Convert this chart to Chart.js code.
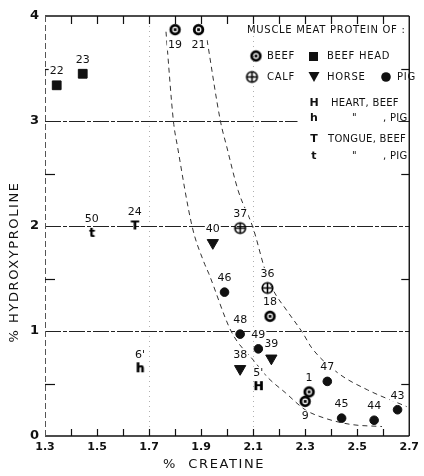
<!DOCTYPE html>
<html>
<head>
<meta charset="utf-8">
<script src="https://cdn.jsdelivr.net/npm/chart.js@4.4.1/dist/chart.umd.min.js"></script>
<style>
  html, body { margin: 0; padding: 0; background: #fff; }
</style>
</head>
<body>
<canvas id="meatChart" width="424" height="476"></canvas>
<script>
// % creatine (x) against % hydroxyproline (y), sample numbers as labels
const beefNo = ['19', '21', '18', '1', '9'];
const beefX = [1.80, 1.89, 2.165, 2.315, 2.30];
const beefY = [3.87, 3.87, 1.14, 0.42, 0.33];

const beefHeadNo = ['22', '23'];
const beefHeadX = [1.345, 1.445];
const beefHeadY = [3.34, 3.45];

const calfNo = ['37', '36'];
const calfX = [2.05, 2.155];
const calfY = [1.98, 1.41];

const horseNo = ['40', '38', '39'];
const horseX = [1.945, 2.05, 2.17];
const horseY = [1.84, 0.64, 0.74];

const pigNo = ['46', '48', '49', '47', '45', '44', '43'];
const pigX = [1.99, 2.05, 2.12, 2.385, 2.44, 2.565, 2.655];
const pigY = [1.37, 0.97, 0.83, 0.52, 0.17, 0.15, 0.25];

const heartBeefNo = ["5'"];
const heartBeefX = [2.12];
const heartBeefY = [0.47];

const heartPigNo = ["6'"];
const heartPigX = [1.665];
const heartPigY = [0.64];

const tongueBeefNo = ['24'];
const tongueBeefX = [1.645];
const tongueBeefY = [2.0];

const tonguePigNo = ['50'];
const tonguePigX = [1.48];
const tonguePigY = [1.93];

// the two dashed limit curves
const innerX = [1.765, 1.794, 1.809, 1.866, 1.91, 1.929, 2.017, 2.105, 2.155, 2.225, 2.30, 2.375, 2.476, 2.595];
const innerY = [3.85, 2.99, 2.76, 1.99, 1.66, 1.55, 0.99, 0.71, 0.56, 0.41, 0.25, 0.17, 0.11, 0.09];
const outerX = [1.923, 1.975, 1.998, 2.042, 2.10, 2.146, 2.177, 2.228, 2.291, 2.325, 2.426, 2.539, 2.69];
const outerY = [3.77, 2.99, 2.76, 2.34, 1.98, 1.58, 1.39, 1.20, 0.98, 0.84, 0.60, 0.44, 0.28];

// numbers written under the mark instead of above it
const labelBelow = ['19', '21', '9'];

const INK = '#111';
const FONT = '"DejaVu Sans", sans-serif';

function pts(xs, ys, nos) {
    return xs.map((x, i) => ({ x: x, y: ys[i], n: nos ? nos[i] : null }));
}

function makeMark(draw) {
    const c = document.createElement('canvas');
    c.width = 15; c.height = 15;
    draw(c.getContext('2d'), 7.5);
    return c;
}

const beefMark = makeMark((g, m) => {
    g.strokeStyle = '#000'; g.lineWidth = 2.8;
    g.beginPath(); g.arc(m, m, 4.3, 0, Math.PI * 2); g.stroke();
    g.fillStyle = '#000'; g.fillRect(m - 1.4, m - 1.4, 2.8, 2.8);
});

const calfMark = makeMark((g, m) => {
    g.strokeStyle = '#000'; g.lineWidth = 1.6;
    g.beginPath(); g.arc(m, m, 5.3, 0, Math.PI * 2);
    g.moveTo(m - 5.3, m); g.lineTo(m + 5.3, m);
    g.moveTo(m, m - 5.3); g.lineTo(m, m + 5.3);
    g.stroke();
});

function letterMark(ch) {
    return makeMark((g, m) => {
        g.font = 'bold 12px ' + FONT;
        g.fillStyle = '#000'; g.textAlign = 'center'; g.textBaseline = 'middle';
        g.fillText(ch, m, m + 0.5);
        g.fillText(ch, m + 0.4, m + 0.5);
    });
}

function curve(xs, ys) {
    return {
        data: pts(xs, ys), showLine: true, pointRadius: 0,
        borderColor: '#333', borderWidth: 1, borderDash: [5, 4],
        cubicInterpolationMode: 'monotone'
    };
}

function marks(xs, ys, nos, style, extra) {
    return Object.assign({
        data: pts(xs, ys, nos), numbered: true, pointStyle: style,
        backgroundColor: INK, borderColor: INK, pointBorderWidth: 1
    }, extra || {});
}

// frame, rules and inward tick marks
const frame = {
    id: 'frame',
    beforeDatasetsDraw(chart) {
        const { ctx, chartArea: a, scales: { x, y } } = chart;
        const line = (x1, y1, x2, y2) => { ctx.beginPath(); ctx.moveTo(x1, y1); ctx.lineTo(x2, y2); ctx.stroke(); };
        const px = v => Math.round(x.getPixelForValue(v)) + 0.5;
        const py = v => Math.round(y.getPixelForValue(v)) + 0.5;
        ctx.save();

        ctx.strokeStyle = '#b0b0b0'; ctx.lineWidth = 1; ctx.setLineDash([1, 4]);
        [1.7, 2.1].forEach(v => line(px(v), a.top, px(v), a.bottom));

        ctx.strokeStyle = '#222'; ctx.setLineDash([16, 2, 4, 2]);
        [1, 2].forEach(v => line(a.left, py(v), a.right, py(v)));
        line(a.left, py(3), px(2.27), py(3));
        ctx.setLineDash([]);
        line(px(2.655), py(3), a.right, py(3));

        ctx.lineWidth = 1.4; ctx.strokeStyle = INK;
        line(a.left, a.top, a.right, a.top);
        line(a.right, a.top, a.right, a.bottom);
        line(a.left, a.bottom, a.right, a.bottom);
        ctx.strokeStyle = '#555'; ctx.lineWidth = 1; ctx.setLineDash([6, 3]);
        line(a.left + 0.5, a.top, a.left + 0.5, a.bottom);
        ctx.setLineDash([]);

        ctx.strokeStyle = INK; ctx.lineWidth = 1.2;
        x.ticks.forEach(t => {
            if (t.value <= x.min + 0.01 || t.value >= x.max - 0.01) return;
            const p = px(t.value);
            line(p, a.bottom, p, a.bottom - 7);
            line(p, a.top, p, a.top + 8);
        });
        y.ticks.forEach(t => {
            if (Math.abs(t.value - Math.round(t.value)) < 0.01) return;
            const p = py(t.value);
            line(a.left, p, a.left + 10, p);
            line(a.right, p, a.right - 8, p);
        });
        ctx.restore();
    }
};

// sample numbers next to the marks
const numberLabels = {
    id: 'numberLabels',
    afterDatasetsDraw(chart) {
        const ctx = chart.ctx;
        ctx.save();
        ctx.font = '11px ' + FONT;
        ctx.textAlign = 'center';
        ctx.textBaseline = 'middle';
        chart.data.datasets.forEach((ds, i) => {
            if (!ds.numbered) return;
            chart.getDatasetMeta(i).data.forEach((el, j) => {
                const n = ds.data[j].n;
                const ly = el.y + (labelBelow.includes(n) ? 15 : -14);
                const w = ctx.measureText(n).width;
                ctx.fillStyle = '#fff';
                ctx.fillRect(el.x - w / 2 - 1, ly - 6, w + 2, 12);
                ctx.fillStyle = INK;
                ctx.fillText(n, el.x, ly);
            });
        });
        ctx.restore();
    }
};

// axis titles and the key in the upper right
const annotations = {
    id: 'annotations',
    afterDraw(chart) {
        const ctx = chart.ctx;
        ctx.save();
        ctx.fillStyle = INK;
        ctx.textBaseline = 'middle';

        ctx.font = '13px ' + FONT;
        ctx.letterSpacing = '1.6px';
        ctx.textAlign = 'center';
        ctx.fillText('%  CREATINE', 214, 465);
        ctx.save();
        ctx.translate(15, 262);
        ctx.rotate(-Math.PI / 2);
        ctx.fillText('% HYDROXYPROLINE', 0, 0);
        ctx.restore();

        ctx.textAlign = 'left';
        ctx.font = '10px ' + FONT;
        ctx.letterSpacing = '0.7px';
        ctx.fillText('MUSCLE MEAT PROTEIN OF :', 247, 30);
        ctx.fillText('BEEF', 267, 56);
        ctx.fillText('BEEF HEAD', 327, 56);
        ctx.fillText('CALF', 267, 77);
        ctx.fillText('HORSE', 327, 77);
        ctx.fillText('PIG', 397, 77);
        ctx.letterSpacing = '0.3px';
        ctx.fillText('HEART, BEEF', 331, 103);
        ctx.fillText('"', 352, 118);
        ctx.fillText(', PIG', 383, 118);
        ctx.fillText('TONGUE, BEEF', 328, 139);
        ctx.fillText('"', 352, 156);
        ctx.fillText(', PIG', 383, 156);

        ctx.letterSpacing = '0px';
        ctx.drawImage(beefMark, 256 - 7.5, 56 - 7.5);
        ctx.drawImage(calfMark, 252 - 7.5, 77 - 7.5);
        ctx.fillRect(309, 52, 9, 9);
        ctx.beginPath();
        ctx.moveTo(308.5, 72); ctx.lineTo(319.5, 72); ctx.lineTo(314, 82); ctx.closePath(); ctx.fill();
        ctx.beginPath(); ctx.arc(386, 77, 4.8, 0, Math.PI * 2); ctx.fill();
        ctx.textAlign = 'center';
        ctx.font = 'bold 11px ' + FONT;
        ctx.fillText('H', 314, 103);
        ctx.fillText('h', 314, 118);
        ctx.fillText('T', 314, 139);
        ctx.fillText('t', 314, 156);
        ctx.restore();
    }
};

new Chart(document.getElementById('meatChart'), {
    type: 'scatter',
    data: {
        datasets: [
            curve(innerX, innerY),
            curve(outerX, outerY),
            marks(beefX, beefY, beefNo, beefMark),
            marks(beefHeadX, beefHeadY, beefHeadNo, 'rect', { pointRadius: 6.2 }),
            marks(calfX, calfY, calfNo, calfMark),
            marks(horseX, horseY, horseNo, 'triangle', { pointRadius: 6.5, rotation: 180 }),
            marks(pigX, pigY, pigNo, 'circle', { pointRadius: 4.3 }),
            marks(heartBeefX, heartBeefY, heartBeefNo, letterMark('H')),
            marks(heartPigX, heartPigY, heartPigNo, letterMark('h')),
            marks(tongueBeefX, tongueBeefY, tongueBeefNo, letterMark('T')),
            marks(tonguePigX, tonguePigY, tonguePigNo, letterMark('t'))
        ]
    },
    options: {
        responsive: false,
        animation: false,
        layout: { padding: { left: 0, top: 16, right: 8, bottom: 0 } },
        plugins: {
            legend: { display: false },
            tooltip: { enabled: false }
        },
        scales: {
            x: {
                type: 'linear',
                min: 1.3,
                max: 2.7,
                afterFit: s => { s.height = 40; },
                grid: { display: false, drawTicks: false },
                border: { display: false },
                ticks: {
                    stepSize: 0.1,
                    autoSkip: false,
                    maxRotation: 0,
                    padding: 5,
                    color: INK,
                    font: { family: FONT, size: 11, weight: 'bold' },
                    callback: v => {
                        const k = Math.round(v * 10);
                        return k % 2 === 1 ? (k / 10).toFixed(1) : '';
                    }
                }
            },
            y: {
                min: 0,
                max: 4,
                afterFit: s => { s.width = 45; },
                grid: { display: false, drawTicks: false },
                border: { display: false },
                ticks: {
                    stepSize: 0.5,
                    padding: 6,
                    color: INK,
                    font: { family: FONT, size: 13, weight: 'bold' },
                    callback: v => Number.isInteger(v) ? String(v) : ''
                }
            }
        }
    },
    plugins: [frame, numberLabels, annotations]
});
</script>
</body>
</html>
